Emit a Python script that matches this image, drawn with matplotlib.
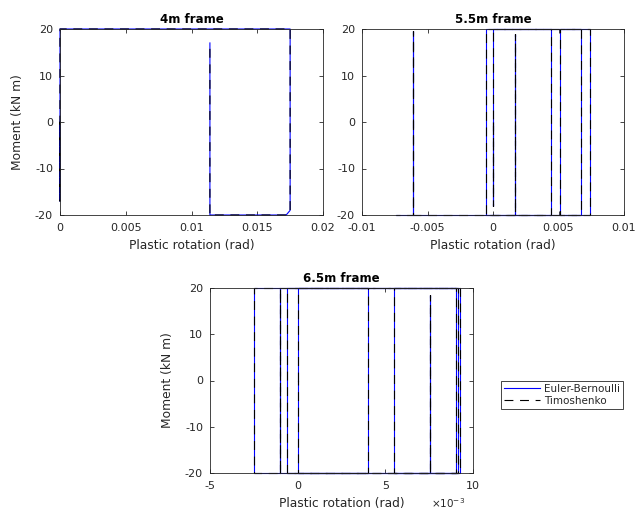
import matplotlib
matplotlib.use("Agg")
import matplotlib.pyplot as plt
from matplotlib.ticker import FuncFormatter
from matplotlib.lines import Line2D

plt.rcParams['font.family'] = ['DejaVu Sans']

# 4m frame (plastic rotation in rad, moment in kN m)
rot_4m = [0, 0, 0, 0.0175, 0.0175, 0.0172, 0.0114, 0.0114]
mom_4m = [0, -17, 20, 20, -19, -20, -20, 17]

# 5.5m frame
rot_55m = [0, 0, 0, 0.0044, 0.0044, 0.0017, 0.0017, 0.0017, -0.00056, -0.00056,
           0.0067, 0.0067, 0.0051, 0.0051, 0.0074, 0.0074, -0.0061, -0.0061,
           -0.0061, -0.0074]
mom_55m = [0, -18, 20, 20, -20, -20, 19, -20, -20, 20,
           20, -20, -20, 20, 20, -20, -20, 19.5,
           -20, -20]

# 6.5m frame
rot_65m = [0, 0, 0.0040, 0.0040, -0.0010, -0.0010, -0.0010, -0.00249, -0.00249,
           0.00905, 0.00905, 0.0055, 0.0055, 0.00915, 0.00915, 0.00755, 0.00755,
           0.00755, -0.00059, -0.00059, 0.00925, 0.00925, 0.0, 0.0]
mom_65m = [0, 20, 20, -20, -20, 20, -20, -20, 20,
           20, -20, -20, 20, 20, -20, -20, 18.5,
           -20, -20, 20, 20, -20, -20, 0]

panels = [
    ("4m frame", rot_4m, mom_4m, [0, 0.005, 0.01, 0.015, 0.02], (0, 0.02)),
    ("5.5m frame", rot_55m, mom_55m, [-0.01, -0.005, 0, 0.005, 0.01], (-0.01, 0.01)),
    ("6.5m frame", rot_65m, mom_65m, [-0.005, 0, 0.005, 0.01], (-0.005, 0.01)),
]
y_ticks = [-20, -10, 0, 10, 20]

W, H = 635, 515
fig = plt.figure(figsize=(W / 100, H / 100), dpi=100)

# axes boxes in pixels: left, top, right, bottom
boxes = [(60, 29, 323, 215), (362, 29, 624, 215), (210, 288, 473, 473)]

grey = '#262626'
for i, (title, rot, mom, xt, xl) in enumerate(panels):
    l, t, r, b = boxes[i]
    ax = fig.add_axes([l / W, 1 - b / H, (r - l) / W, (b - t) / H])
    ax.plot(rot, mom, color='blue', lw=0.8, clip_on=False)
    ax.plot(rot, mom, color='black', lw=0.8, dashes=(8, 6), clip_on=False)
    ax.set_xlim(*xl)
    ax.set_ylim(-20, 20)
    ax.set_xticks(xt)
    ax.set_yticks(y_ticks)
    if i == 2:
        ax.xaxis.set_major_formatter(FuncFormatter(lambda v, p: '%g' % round(v * 1000, 6)))
        ax.text(0.97, -0.125, r'$\times$10$^{-3}$', transform=ax.transAxes,
                ha='right', va='top', fontsize=7.5, color=grey)
    else:
        ax.xaxis.set_major_formatter(FuncFormatter(lambda v, p: '%g' % round(v, 6)))
    ax.yaxis.set_major_formatter(FuncFormatter(lambda v, p: '%g' % v))
    ax.tick_params(direction='in', length=3, width=0.6, top=True, right=True,
                   labelsize=8, colors=grey)
    ax.tick_params(axis='x', pad=6)
    ax.tick_params(axis='y', pad=5)
    for s in ax.spines.values():
        s.set_linewidth(0.6)
        s.set_color(grey)
    ax.set_title(title, fontsize=8.5, fontweight='bold', color='black', pad=4)
    ax.set_xlabel('Plastic rotation (rad)', fontsize=8.8, color=grey, labelpad=4)
    if i != 1:
        ax.set_ylabel('Moment (kN m)', fontsize=8.8, color=grey, labelpad=8)

handles = [Line2D([], [], color='blue', lw=0.8),
           Line2D([], [], color='black', lw=0.8, dashes=(8, 6))]
leg = fig.legend(handles, ['Euler-Bernoulli', 'Timoshenko'], loc='center',
                 bbox_to_anchor=(562 / W, 1 - 395 / H), fontsize=7.5,
                 handlelength=3.5, handletextpad=0.4, borderpad=0.3,
                 labelspacing=0.2, fancybox=False, framealpha=1,
                 edgecolor=grey, borderaxespad=0)
leg.get_frame().set_linewidth(0.6)
for txt in leg.get_texts():
    txt.set_color(grey)

fig.savefig('out.png', dpi=100)
